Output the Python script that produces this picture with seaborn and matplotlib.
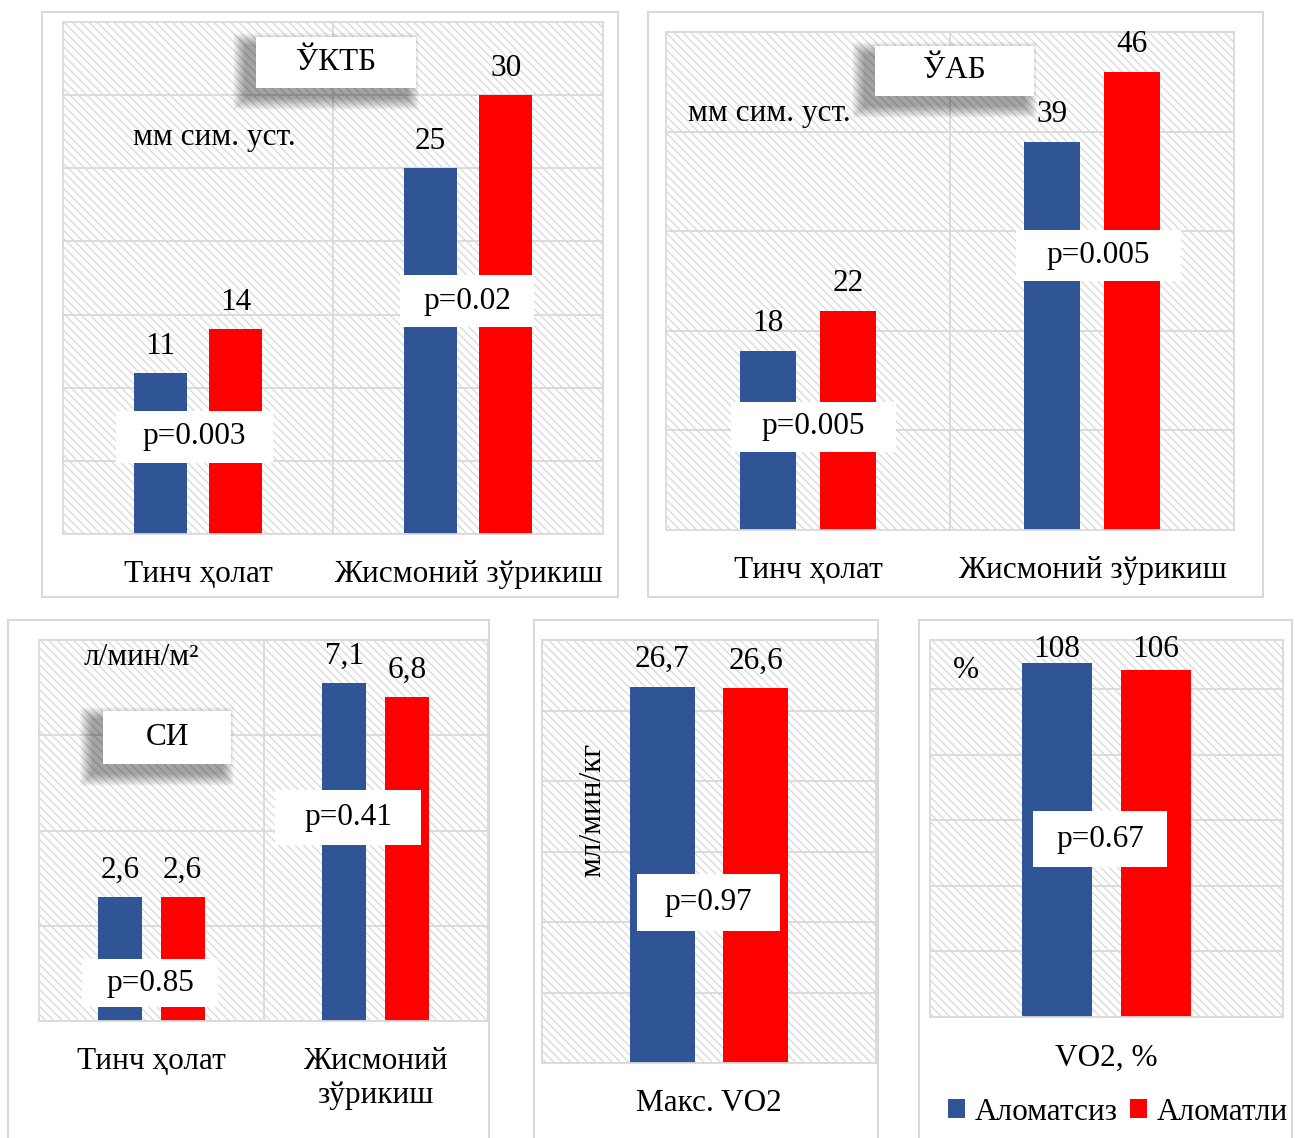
import numpy as np
import pandas as pd
import seaborn as sns
import matplotlib.pyplot as plt
from matplotlib.patches import Rectangle, Patch

plt.rcParams['font.family'] = ['Liberation Serif', 'DejaVu Serif']
plt.rcParams['hatch.linewidth'] = 0.9

BLUE = '#2F5597'
RED = '#FF0000'
GRID = '#D9D9D9'
FS = 22.5

groups = ['Аломатсиз', 'Аломатли']

# ЎКТБ, мм сим. уст.
states = ['Тинч ҳолат', 'Жисмоний зўрикиш']
uktb_no = [11, 25]
uktb_yes = [14, 30]
uktb_p = ['p=0.003', 'p=0.02']

# ЎАБ, мм сим. уст.
uab_no = [18, 39]
uab_yes = [22, 46]
uab_p = ['p=0.005', 'p=0.005']

# СИ, л/мин/м2
si_states = ['Тинч ҳолат', 'Жисмоний\nзўрикиш']
si_no = [2.6, 7.1]
si_yes = [2.6, 6.8]
si_p = ['p=0.85', 'p=0.41']

# Макс. VO2, мл/мин/кг
vo2max_cat = ['Макс. VO2']
vo2max_no = [26.7]
vo2max_yes = [26.6]
vo2max_p = ['p=0.97']

# VO2, %
vo2pct_cat = ['VO2, %']
vo2pct_no = [108]
vo2pct_yes = [106]
vo2pct_p = ['p=0.67']

W, H = 1299, 1138
fig = plt.figure(figsize=(W / 100, H / 100), dpi=100)


def frame(x0, y0, x1, y1):
    fig.add_artist(Rectangle((x0 / W, 1 - y1 / H), (x1 - x0) / W, (y1 - y0) / H,
                             transform=fig.transFigure, fill=False,
                             edgecolor=GRID, lw=1.5))


def panel(box, cats, no, yes, ymax, step, dec=False, label_cap=None):
    x0, y0, x1, y1 = box
    ax = fig.add_axes([x0 / W, 1 - y1 / H, (x1 - x0) / W, (y1 - y0) / H])
    ax.set_facecolor('white')
    ax.add_patch(Rectangle((0, 0), 1, 1, transform=ax.transAxes, facecolor='white',
                           edgecolor='#D8D8D8', lw=0, hatch='\\' * 4, zorder=0))
    df = pd.DataFrame({
        'cat': cats * 2,
        'val': no + yes,
        'grp': [groups[0]] * len(cats) + [groups[1]] * len(cats),
    })
    sns.barplot(data=df, x='cat', y='val', hue='grp', palette=[BLUE, RED],
                saturation=1, width=0.56, gap=0.3, linewidth=0, errorbar=None,
                legend=False, ax=ax, zorder=2)
    n = len(cats)
    ax.set_xlim(-0.5, n - 0.5)
    ax.set_ylim(0, ymax)
    ax.set_yticks(np.arange(0, ymax + 0.01, step))
    ax.set_xticks(range(n), cats, fontsize=FS)
    ax.set_xticks(np.arange(0.5, n - 0.5), minor=True)
    ax.tick_params(which='both', length=0, pad=19)
    ax.tick_params(axis='y', labelleft=False)
    ax.grid(axis='y', which='major', color=GRID, lw=1.3)
    ax.grid(axis='x', which='minor', color=GRID, lw=1.3)
    ax.grid(axis='x', which='major', visible=False)
    ax.set_axisbelow(True)
    for s in ax.spines.values():
        s.set_color(GRID)
        s.set_linewidth(1.3)
    ax.set_xlabel('')
    ax.set_ylabel('')

    off = 27 * ymax / (y1 - y0)
    for cont, vals in zip(ax.containers, [no, yes]):
        for rect, v in zip(cont, vals):
            y = v + off
            if label_cap is not None:
                y = min(y, label_cap * ymax)
            txt = f'{v:.1f}'.replace('.', ',') if dec else f'{v:g}'
            ax.text(rect.get_x() + rect.get_width() / 2, y, txt, ha='center',
                    va='center', fontsize=FS, zorder=5)
    ax.px = (x1 - x0, y1 - y0)
    return ax


def pbox(ax, cx, cy, w, h, text, fs=FS):
    ax.add_patch(Rectangle((cx - w / 2, cy - h / 2), w, h, transform=ax.transAxes,
                           facecolor='white', edgecolor='none', zorder=4))
    ax.text(cx, cy, text, transform=ax.transAxes, ha='center', va='center',
            fontsize=fs, zorder=5)


def title_box(ax, cx, cy, w, h, text):
    # soft drop shadow towards the lower left
    pw, ph = ax.px
    dx, dy = -10 / pw, -9 / ph
    for k in range(13, 0, -1):
        ex, ey = k / pw, k / ph
        ax.add_patch(Rectangle((cx - w / 2 + dx - ex, cy - h / 2 + dy - ey),
                               w + 2 * ex, h + 2 * ey, transform=ax.transAxes,
                               facecolor='black', edgecolor='none', alpha=0.03,
                               zorder=3))
    pbox(ax, cx, cy, w, h, text)


frame(42, 12, 618, 597)
frame(648, 12, 1263, 597)
frame(8, 620, 489, 1145)
frame(534, 620, 878, 1145)
frame(919, 620, 1292, 1145)

ax1 = panel((63, 22, 603, 534), states, uktb_no, uktb_yes, 35, 5)
title_box(ax1, 0.506, 0.921, 0.296, 0.0996, 'ЎКТБ')
ax1.text(0.281, 0.775, 'мм сим. уст.', transform=ax1.transAxes, ha='center',
         va='center', fontsize=FS)
pbox(ax1, 0.2435, 0.190, 0.291, 0.1016, uktb_p[0])
pbox(ax1, 0.748, 0.455, 0.248, 0.1016, uktb_p[1])

ax2 = panel((666, 32, 1234, 530), states, uab_no, uab_yes, 50, 10)
title_box(ax2, 0.508, 0.922, 0.280, 0.100, 'ЎАБ')
ax2.text(0.182, 0.837, 'мм сим. уст.', transform=ax2.transAxes, ha='center',
         va='center', fontsize=FS)
pbox(ax2, 0.260, 0.207, 0.290, 0.100, uab_p[0])
pbox(ax2, 0.761, 0.551, 0.290, 0.102, uab_p[1])

ax3 = panel((39, 640, 488, 1021), si_states, si_no, si_yes, 8, 2, dec=True)
title_box(ax3, 0.285, 0.744, 0.285, 0.139, 'СИ')
ax3.text(0.227, 0.953, 'л/мин/м²', transform=ax3.transAxes, ha='center',
         va='center', fontsize=FS)
pbox(ax3, 0.247, 0.0997, 0.303, 0.126, si_p[0])
pbox(ax3, 0.688, 0.534, 0.325, 0.144, si_p[1])

ax4 = panel((542, 640, 876, 1063), vo2max_cat, vo2max_no, vo2max_yes, 30, 5, dec=True)
ax4.text(0.1515, 0.598, 'мл/мин/кг', transform=ax4.transAxes, ha='center',
         va='center', rotation=90, fontsize=FS)
pbox(ax4, 0.4985, 0.379, 0.428, 0.135, vo2max_p[0])

ax5 = panel((930, 640, 1283, 1017), vo2pct_cat, vo2pct_no, vo2pct_yes, 115, 20,
            label_cap=0.976)
ax5.text(0.102, 0.920, '%', transform=ax5.transAxes, ha='center', va='center',
         fontsize=FS)
pbox(ax5, 0.4816, 0.472, 0.382, 0.1485, vo2pct_p[0])

handles = [Patch(facecolor=BLUE), Patch(facecolor=RED)]
fig.legend(handles, groups, loc='center', bbox_to_anchor=(1118 / W, 1 - 1112 / H),
           ncol=2, frameon=False, fontsize=FS, handlelength=0.55, handleheight=0.55,
           handletextpad=0.3, columnspacing=0.4, borderpad=0)

fig.savefig('out.png', dpi=100)
